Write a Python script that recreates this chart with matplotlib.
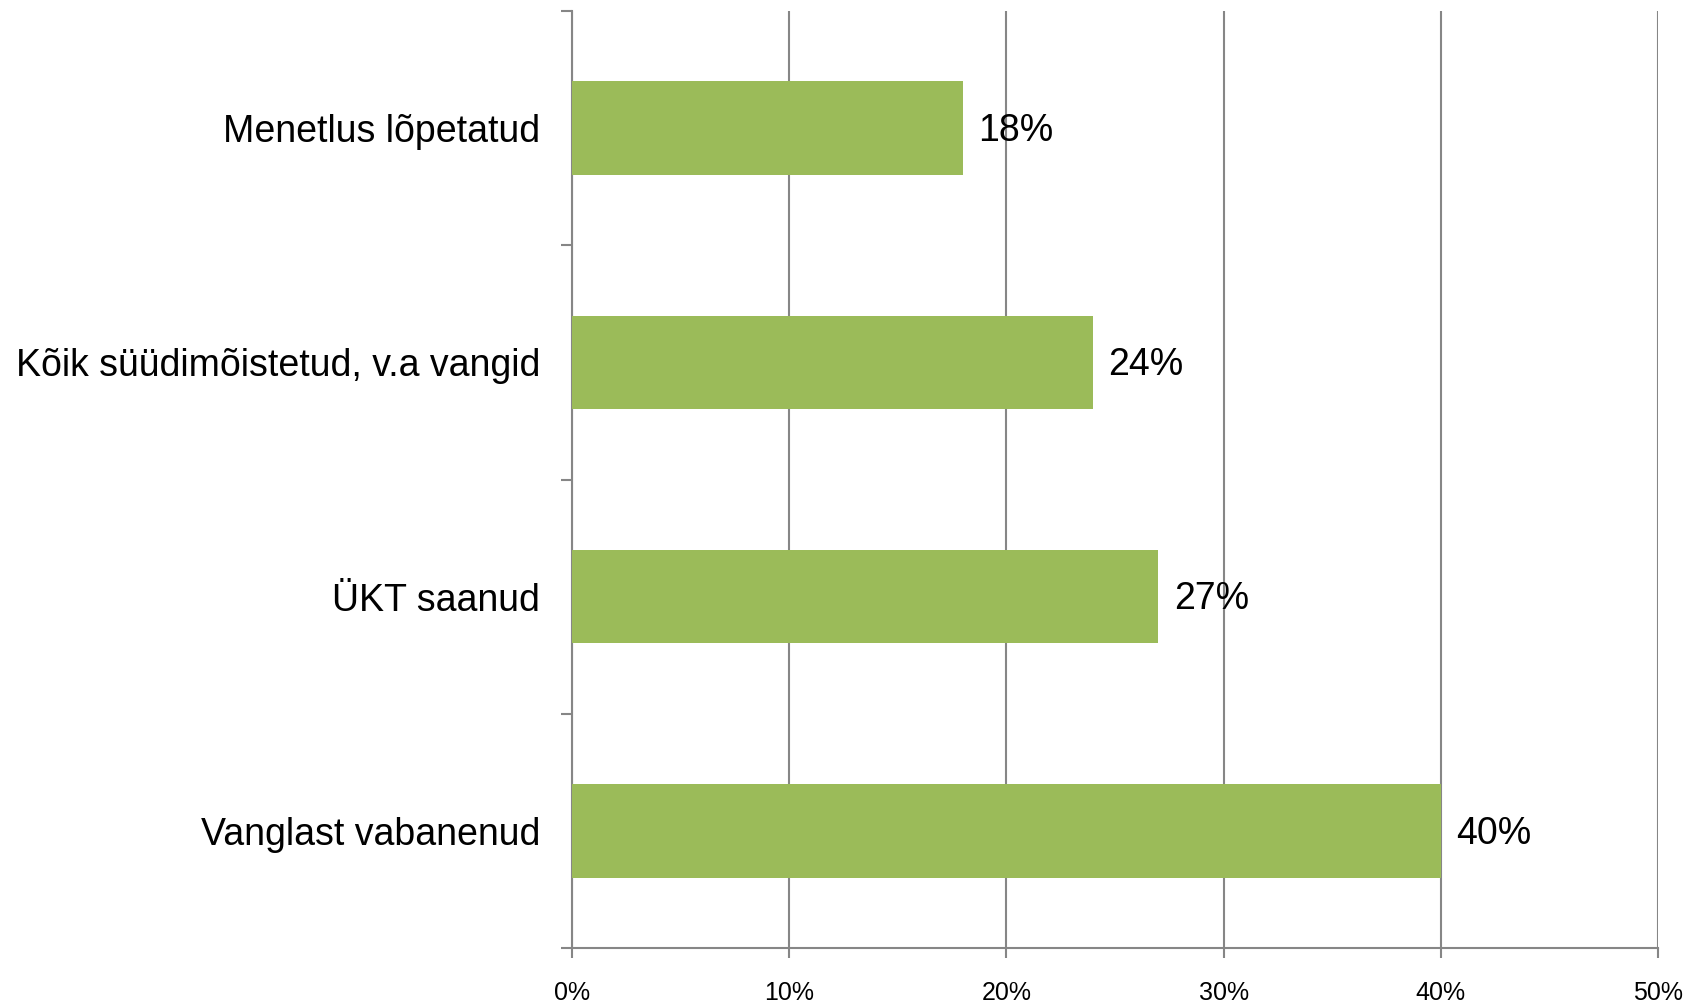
import matplotlib.pyplot as plt
from matplotlib.ticker import MultipleLocator, FuncFormatter, FixedLocator

categories = ["Menetlus lõpetatud", "Kõik süüdimõistetud, v.a vangid", "ÜKT saanud", "Vanglast vabanenud"]
values = [18, 24, 27, 40]
value_labels = ["18%", "24%", "27%", "40%"]

plt.rcParams['font.family'] = ['Liberation Sans', 'DejaVu Sans']
grey = '#868686'
bar_color = '#9BBB59'

fig = plt.figure(figsize=(16.93, 10.02), dpi=100)
ax = fig.add_axes([0.3379, 0.0539, 0.9793 - 0.3379, 0.989 - 0.0539])

# top category first
pos = list(range(len(categories)))[::-1]
ax.barh(pos, values, height=0.4, color=bar_color, zorder=3)

for p, v, lab in zip(pos, values, value_labels):
    ax.annotate(lab, (v, p), xytext=(11, -2), textcoords='offset points',
                va='center', ha='left', fontsize=27, color='black')

ax.set_xlim(0, 50)
ax.set_ylim(-0.5, len(categories) - 0.5)
ax.xaxis.set_major_locator(MultipleLocator(10))
ax.xaxis.set_major_formatter(FuncFormatter(lambda x, _: f"{x:.0f}%"))
ax.grid(axis='x', color=grey, linewidth=1.5, zorder=0)

# category labels without ticks, ticks on category boundaries
ax.set_yticks(pos)
ax.set_yticklabels(categories, fontsize=27)
ax.tick_params(axis='y', which='major', length=0, pad=23)
ax.yaxis.set_minor_locator(FixedLocator([-0.5, 0.5, 1.5, 2.5, 3.5]))
ax.tick_params(axis='y', which='minor', length=8, width=1.5, color=grey, direction='out')
ax.tick_params(axis='x', length=7, width=1.5, color=grey, labelsize=18, pad=17)

for side in ['top', 'right']:
    ax.spines[side].set_visible(False)
for side in ['left', 'bottom']:
    ax.spines[side].set_color(grey)
    ax.spines[side].set_linewidth(1.5)

fig.savefig("out.png", dpi=100)
